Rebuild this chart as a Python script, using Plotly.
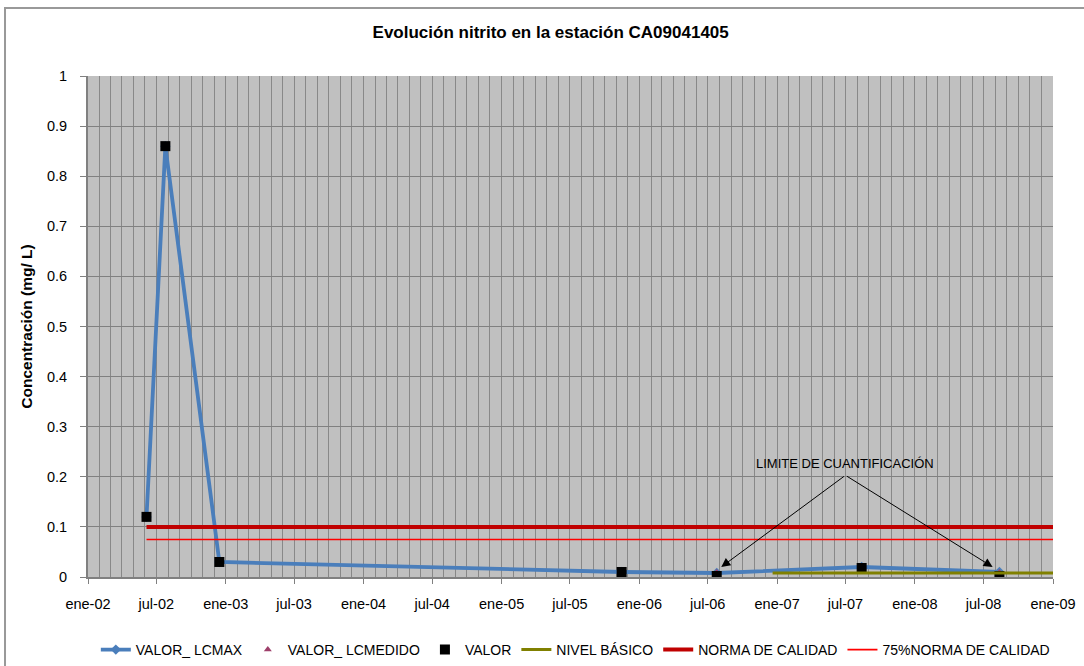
import plotly.graph_objects as go

# ---- data ----
fechas = ["2002-06-05", "2002-07-25", "2002-12-15", "2005-11-15",
          "2006-07-25", "2007-08-13", "2008-08-12"]
valor_lcmax = [0.12, 0.86, 0.03, 0.01, 0.008, 0.02, 0.01]
valor = [0.12, 0.86, 0.03, 0.01, 0.002, 0.018, 0.002]

fechas_lcmedido = ["2006-07-25", "2008-08-12"]
valor_lcmedido = [0.009, 0.009]

fechas_nivel = ["2006-12-20", "2009-01-01"]
nivel_basico = [0.008, 0.008]

fechas_norma = ["2002-06-05", "2009-01-01"]
norma = [0.1, 0.1]
norma75 = [0.075, 0.075]

tick_vals = ["2002-01-01", "2002-07-01", "2003-01-01", "2003-07-01", "2004-01-01",
             "2004-07-01", "2005-01-01", "2005-07-01", "2006-01-01", "2006-07-01",
             "2007-01-01", "2007-07-01", "2008-01-01", "2008-07-01", "2009-01-01"]
tick_text = ["ene-02", "jul-02", "ene-03", "jul-03", "ene-04", "jul-04", "ene-05",
             "jul-05", "ene-06", "jul-06", "ene-07", "jul-07", "ene-08", "jul-08", "ene-09"]

y_vals = [0, 0.1, 0.2, 0.3, 0.4, 0.5, 0.6, 0.7, 0.8, 0.9, 1]
y_text = ["0", "0.1", "0.2", "0.3", "0.4", "0.5", "0.6", "0.7", "0.8", "0.9", "1"]

anot_texto = "LIMITE DE CUANTIFICACIÓN"
anot_pos = ("2007-07-01", 0.2275)
anot_origen = ("2007-07-01", 0.203)
anot_destinos = [("2006-08-06", 0.02), ("2008-07-25", 0.02)]

SANS = "Liberation Sans, Arial"

fig = go.Figure()

fig.add_trace(go.Scatter(
    x=fechas, y=valor_lcmax, name="VALOR_ LCMAX", mode="lines+markers",
    line=dict(color="#4A7EBB", width=3.8),
    marker=dict(symbol="diamond", size=8, color="#4A7EBB")))
fig.add_trace(go.Scatter(
    x=fechas_lcmedido, y=valor_lcmedido, name="VALOR_ LCMEDIDO", mode="markers",
    marker=dict(symbol="triangle-up", size=7, color="#9E3F6A")))
fig.add_trace(go.Scatter(
    x=fechas, y=valor, name="VALOR", mode="markers",
    marker=dict(symbol="square", size=10, color="black")))
fig.add_trace(go.Scatter(
    x=fechas_nivel, y=nivel_basico, name="NIVEL BÁSICO", mode="lines",
    line=dict(color="#808000", width=3)))
fig.add_trace(go.Scatter(
    x=fechas_norma, y=norma, name="NORMA DE CALIDAD", mode="lines",
    line=dict(color="#C00000", width=4)))
fig.add_trace(go.Scatter(
    x=fechas_norma, y=norma75, name="75%NORMA DE CALIDAD", mode="lines",
    line=dict(color="#FF0000", width=1.6)))

annotations = [dict(
    x=anot_pos[0], y=anot_pos[1], xref="x", yref="y", text=anot_texto,
    showarrow=False, font=dict(family=SANS, size=13, color="black"))]
for dx, dy in anot_destinos:
    annotations.append(dict(
        x=dx, y=dy, xref="x", yref="y", ax=anot_origen[0], ay=anot_origen[1],
        axref="x", ayref="y", text="", showarrow=True, arrowhead=2,
        arrowsize=1.8, arrowwidth=1, arrowcolor="black"))

fig.update_layout(
    width=1084, height=666,
    margin=dict(l=88, r=31, t=76, b=89, autoexpand=False),
    paper_bgcolor="white", plot_bgcolor="#C0C0C0",
    title=dict(text="<b>Evolución nitrito en la estación CA09041405</b>",
               x=0.508, xanchor="center", y=0.952, yanchor="middle",
               font=dict(family=SANS, size=17, color="black")),
    showlegend=True,
    legend=dict(orientation="h", x=0.505, xanchor="center", y=-0.1457, yanchor="middle",
                font=dict(family=SANS, size=14, color="black"),
                bgcolor="rgba(0,0,0,0)", itemwidth=30, tracegroupgap=0),
    annotations=annotations,
    shapes=[dict(type="rect", xref="paper", yref="paper",
                 x0=-0.086, x1=1.04, y0=-0.19, y1=1.1357,
                 line=dict(color="#999999", width=2), fillcolor="rgba(0,0,0,0)",
                 layer="below")],
)

fig.update_xaxes(
    type="date", range=["2002-01-01", "2009-01-01"],
    tickmode="array", tickvals=tick_vals, ticktext=tick_text,
    ticks="outside", ticklen=5, tickcolor="#808080", ticklabelstandoff=8,
    tickfont=dict(family=SANS, size=14.5, color="black"),
    showgrid=True, gridcolor="#888888", gridwidth=1.2,
    minor=dict(tick0="2002-01-01", dtick="M1", showgrid=True,
               gridcolor="#888888", gridwidth=1.2),
    showline=True, linecolor="#808080", linewidth=2,
    zeroline=False)

fig.update_yaxes(
    range=[0, 1], tickmode="array", tickvals=y_vals, ticktext=y_text,
    ticks="outside", ticklen=6, tickcolor="#808080", ticklabelstandoff=10,
    tickfont=dict(family=SANS, size=14.5, color="black"),
    showgrid=True, gridcolor="#808080", gridwidth=1.2,
    showline=True, linecolor="#808080", linewidth=2, zeroline=False,
    title=dict(text="<b>Concentración (mg/ L)</b>", standoff=11,
               font=dict(family=SANS, size=15.5, color="black")))

fig.write_html("out.html", config={"displayModeBar": False},
               post_script="document.body.style.margin='0px';document.body.style.overflow='hidden';")
